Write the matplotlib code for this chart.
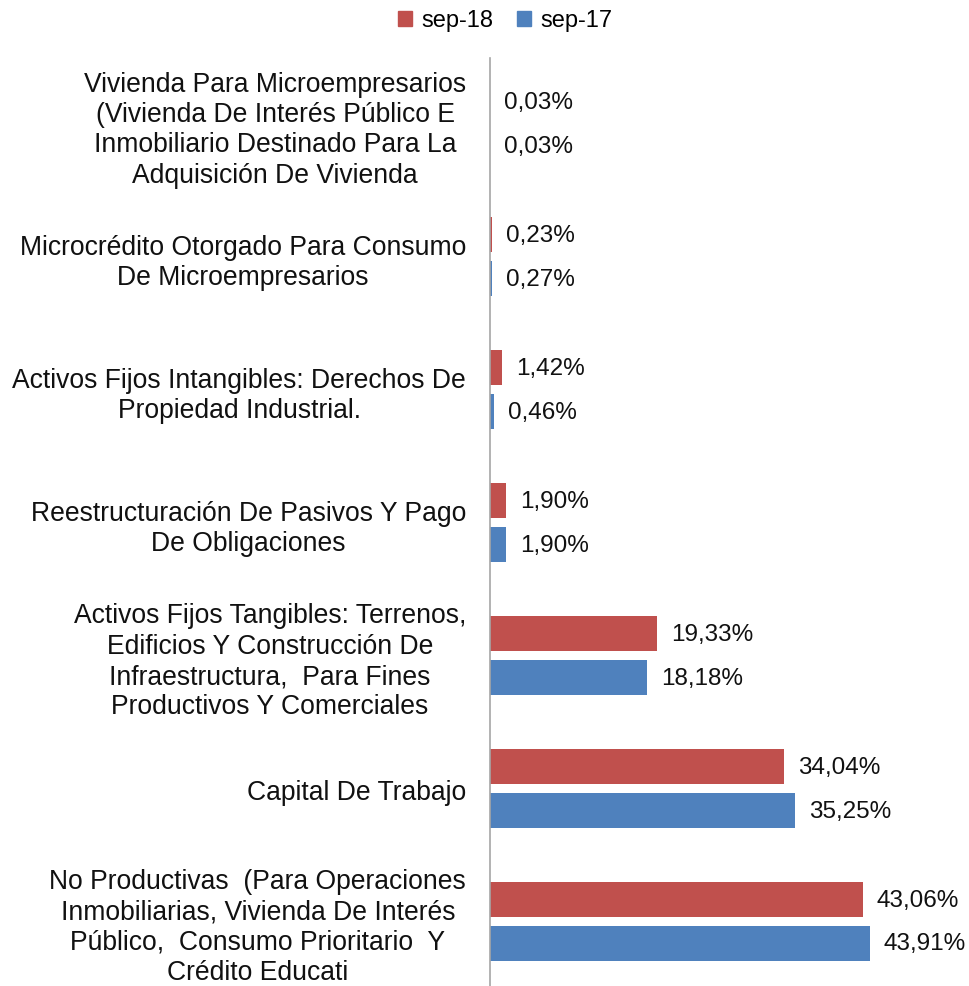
import matplotlib
matplotlib.use("Agg")
import matplotlib.pyplot as plt
from matplotlib.patches import Patch

plt.rcParams['font.family'] = ['Liberation Sans', 'DejaVu Sans']

categories = [
    "Vivienda Para Microempresarios\n(Vivienda De Interés Público E\nInmobiliario Destinado Para La\nAdquisición De Vivienda",
    "Microcrédito Otorgado Para Consumo\nDe Microempresarios",
    "Activos Fijos Intangibles: Derechos De\nPropiedad Industrial.",
    "Reestructuración De Pasivos Y Pago\nDe Obligaciones",
    "Activos Fijos Tangibles: Terrenos,\nEdificios Y Construcción De\nInfraestructura,  Para Fines\nProductivos Y Comerciales",
    "Capital De Trabajo",
    "No Productivas  (Para Operaciones\nInmobiliarias, Vivienda De Interés\nPúblico,  Consumo Prioritario  Y\nCrédito Educati",
]
sep18 = [0.03, 0.23, 1.42, 1.90, 19.33, 34.04, 43.06]
sep17 = [0.03, 0.27, 0.46, 1.90, 18.18, 35.25, 43.91]
series_names = ["sep-18", "sep-17"]
colors = ["#C0504D", "#4F81BD"]

fig = plt.figure(figsize=(9.7, 9.87), dpi=100)
ax = fig.add_axes([0.505, -0.002, 0.4845, 0.9427])

ypos = list(range(len(categories)))
off = 0.165
h = 0.263
b1 = ax.barh([y - off for y in ypos], sep18, height=h, color=colors[0])
b2 = ax.barh([y + off for y in ypos], sep17, height=h, color=colors[1])

def fmt(v):
    return f"{v:.2f}%".replace('.', ',')

for bars, vals in ((b1, sep18), (b2, sep17)):
    for rect, v in zip(bars, vals):
        ax.annotate(fmt(v), (rect.get_width(), rect.get_y() + rect.get_height() / 2),
                    xytext=(10, 0), textcoords='offset points', va='center', ha='left',
                    fontsize=17.5, color='#111111')

ax.set_xlim(0, 54.3)
ax.set_ylim(len(categories) - 0.5, -0.5)
ax.set_yticks(ypos)
ax.set_yticklabels(categories, fontsize=19.1, color='#111111', linespacing=1.22)
for t in ax.get_yticklabels():
    t.set_multialignment('center')
ax.tick_params(axis='y', length=0, pad=17)
ax.set_xticks([])
for s in ['top', 'right', 'bottom']:
    ax.spines[s].set_visible(False)
ax.spines['left'].set_color('#a6a6a6')
ax.spines['left'].set_linewidth(1.2)

handles = [Patch(color=c) for c in colors]
fig.legend(handles, series_names, loc='upper center', bbox_to_anchor=(0.521, 1.011), ncol=2,
           frameon=False, fontsize=17, handlelength=0.6, handleheight=0.6,
           handletextpad=0.4, columnspacing=1.0)

fig.savefig("out.png", dpi=100)
